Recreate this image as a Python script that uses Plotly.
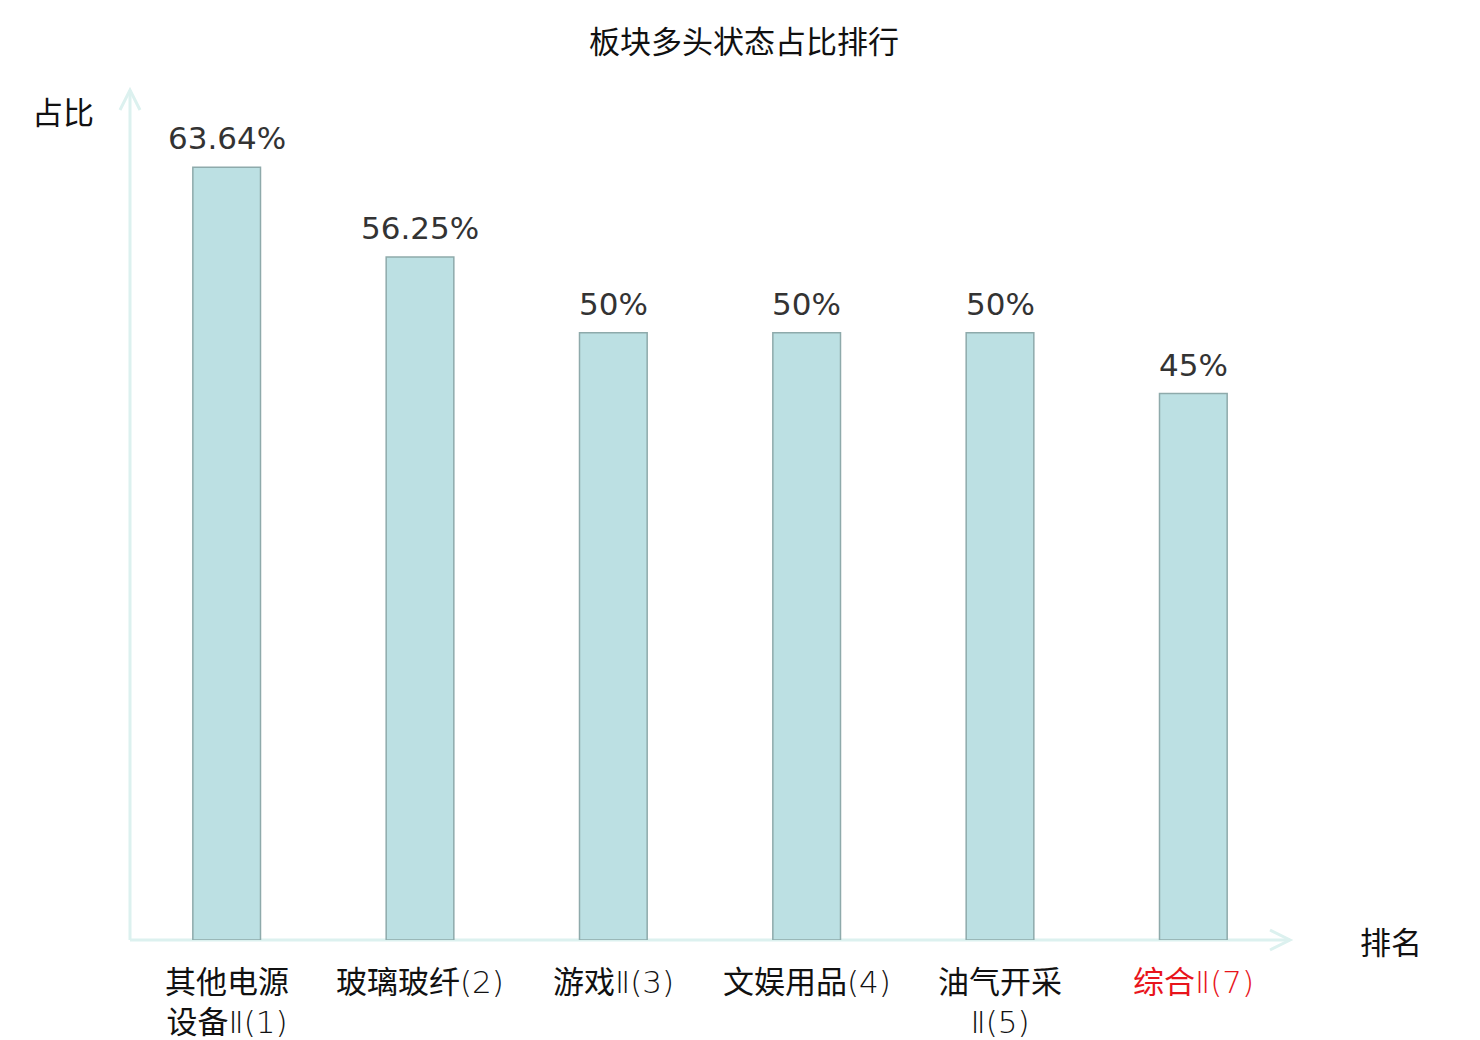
import re
import plotly.graph_objects as go

categories = ["其他电源\n设备Ⅱ(1)", "玻璃玻纤(2)", "游戏Ⅱ(3)", "文娱用品(4)", "油气开采\nⅡ(5)", "综合Ⅱ(7)"]
values = [63.64, 56.25, 50, 50, 50, 45]
value_labels = ["63.64%", "56.25%", "50%", "50%", "50%", "45%"]
label_colors = ["#111111", "#111111", "#111111", "#111111", "#111111", "#e8141b"]

xpos = list(range(len(categories)))

# page has an 8px body margin, so the figure is drawn at (8, 8)
W, H = 1472, 1032
L, R, T, B = 122, 190, 82, 100
pw, ph = W - L - R, H - T - B

axis_color = "#dcf1ef"
cjk = "Noto Sans CJK SC"
tick_family = "DejaVu Sans, Noto Sans CJK SC"
tick_size = 31


def thin_latin(s):
    # latin digits / brackets / roman numeral in a light weight, CJK stays regular
    return re.sub(r"([A-Za-z0-9()Ⅱ]+)", r'<span style="font-weight:200">\1</span>', s)


fig = go.Figure()
fig.add_trace(go.Bar(
    x=xpos, y=values, width=0.35,
    marker=dict(color="#bce0e3", line=dict(color="#8eaaab", width=1.5)),
    hoverinfo="skip",
))

shapes = [
    dict(type="line", xref="paper", yref="paper", x0=0, y0=0, x1=1, y1=0,
         line=dict(color=axis_color, width=3), layer="below"),
    dict(type="path", xref="paper", yref="paper", xsizemode="pixel", ysizemode="pixel",
         xanchor=1, yanchor=0, path="M -20,10 L 0,0 L -20,-10",
         line=dict(color=axis_color, width=3)),
    dict(type="line", xref="paper", yref="paper", x0=0, y0=0, x1=0, y1=1,
         line=dict(color=axis_color, width=3), layer="below"),
    dict(type="path", xref="paper", yref="paper", xsizemode="pixel", ysizemode="pixel",
         xanchor=0, yanchor=1, path="M -10,-20 L 0,0 L 10,-20",
         line=dict(color=axis_color, width=3)),
]

annotations = [
    dict(text="占比", xref="paper", yref="paper", x=(55 - L) / pw, y=(H - B - 102) / ph,
         showarrow=False, xanchor="center", yanchor="middle",
         font=dict(family=cjk, size=31, color="#111111")),
    dict(text="排名", xref="paper", yref="paper", x=(1383 - L) / pw, y=(H - B - 932) / ph,
         showarrow=False, xanchor="center", yanchor="middle",
         font=dict(family=cjk, size=31, color="#111111")),
]

# value labels above bars
for xv, v, lbl in zip(xpos, values, value_labels):
    annotations.append(dict(
        x=xv, y=v, xref="x", yref="y", text=lbl, showarrow=False,
        xanchor="center", yanchor="bottom", yshift=9,
        font=dict(family="DejaVu Sans", size=31, color="#333333")))

# category labels under the axis
line_gap = 1.3 * tick_size
for xv, cat, col in zip(xpos, categories, label_colors):
    lines = cat.split("\n")
    n = len(lines)
    annotations.append(dict(
        x=xv, y=0, xref="x", yref="paper",
        text="<br>".join(thin_latin(s) for s in lines), showarrow=False,
        xanchor="center", yanchor="middle", align="center",
        yshift=-(42 + (n - 1) * line_gap / 2),
        font=dict(family=tick_family, size=tick_size, color=col)))

fig.update_layout(
    width=W, height=H,
    margin=dict(l=L, r=R, t=T, b=B),
    paper_bgcolor="white", plot_bgcolor="white",
    showlegend=False,
    title=dict(text="板块多头状态占比排行", x=0.5, xanchor="center",
               y=1 - 34 / H, yanchor="middle", yref="container",
               font=dict(family=cjk, size=31, color="#111111")),
    xaxis=dict(range=[-0.5, len(categories) - 0.5],
               showgrid=False, zeroline=False, showline=False, ticks="",
               showticklabels=False),
    yaxis=dict(range=[0, 70], showgrid=False, zeroline=False, showline=False,
               showticklabels=False, ticks=""),
    shapes=shapes,
    annotations=annotations,
)

fig.write_html("out.html")
